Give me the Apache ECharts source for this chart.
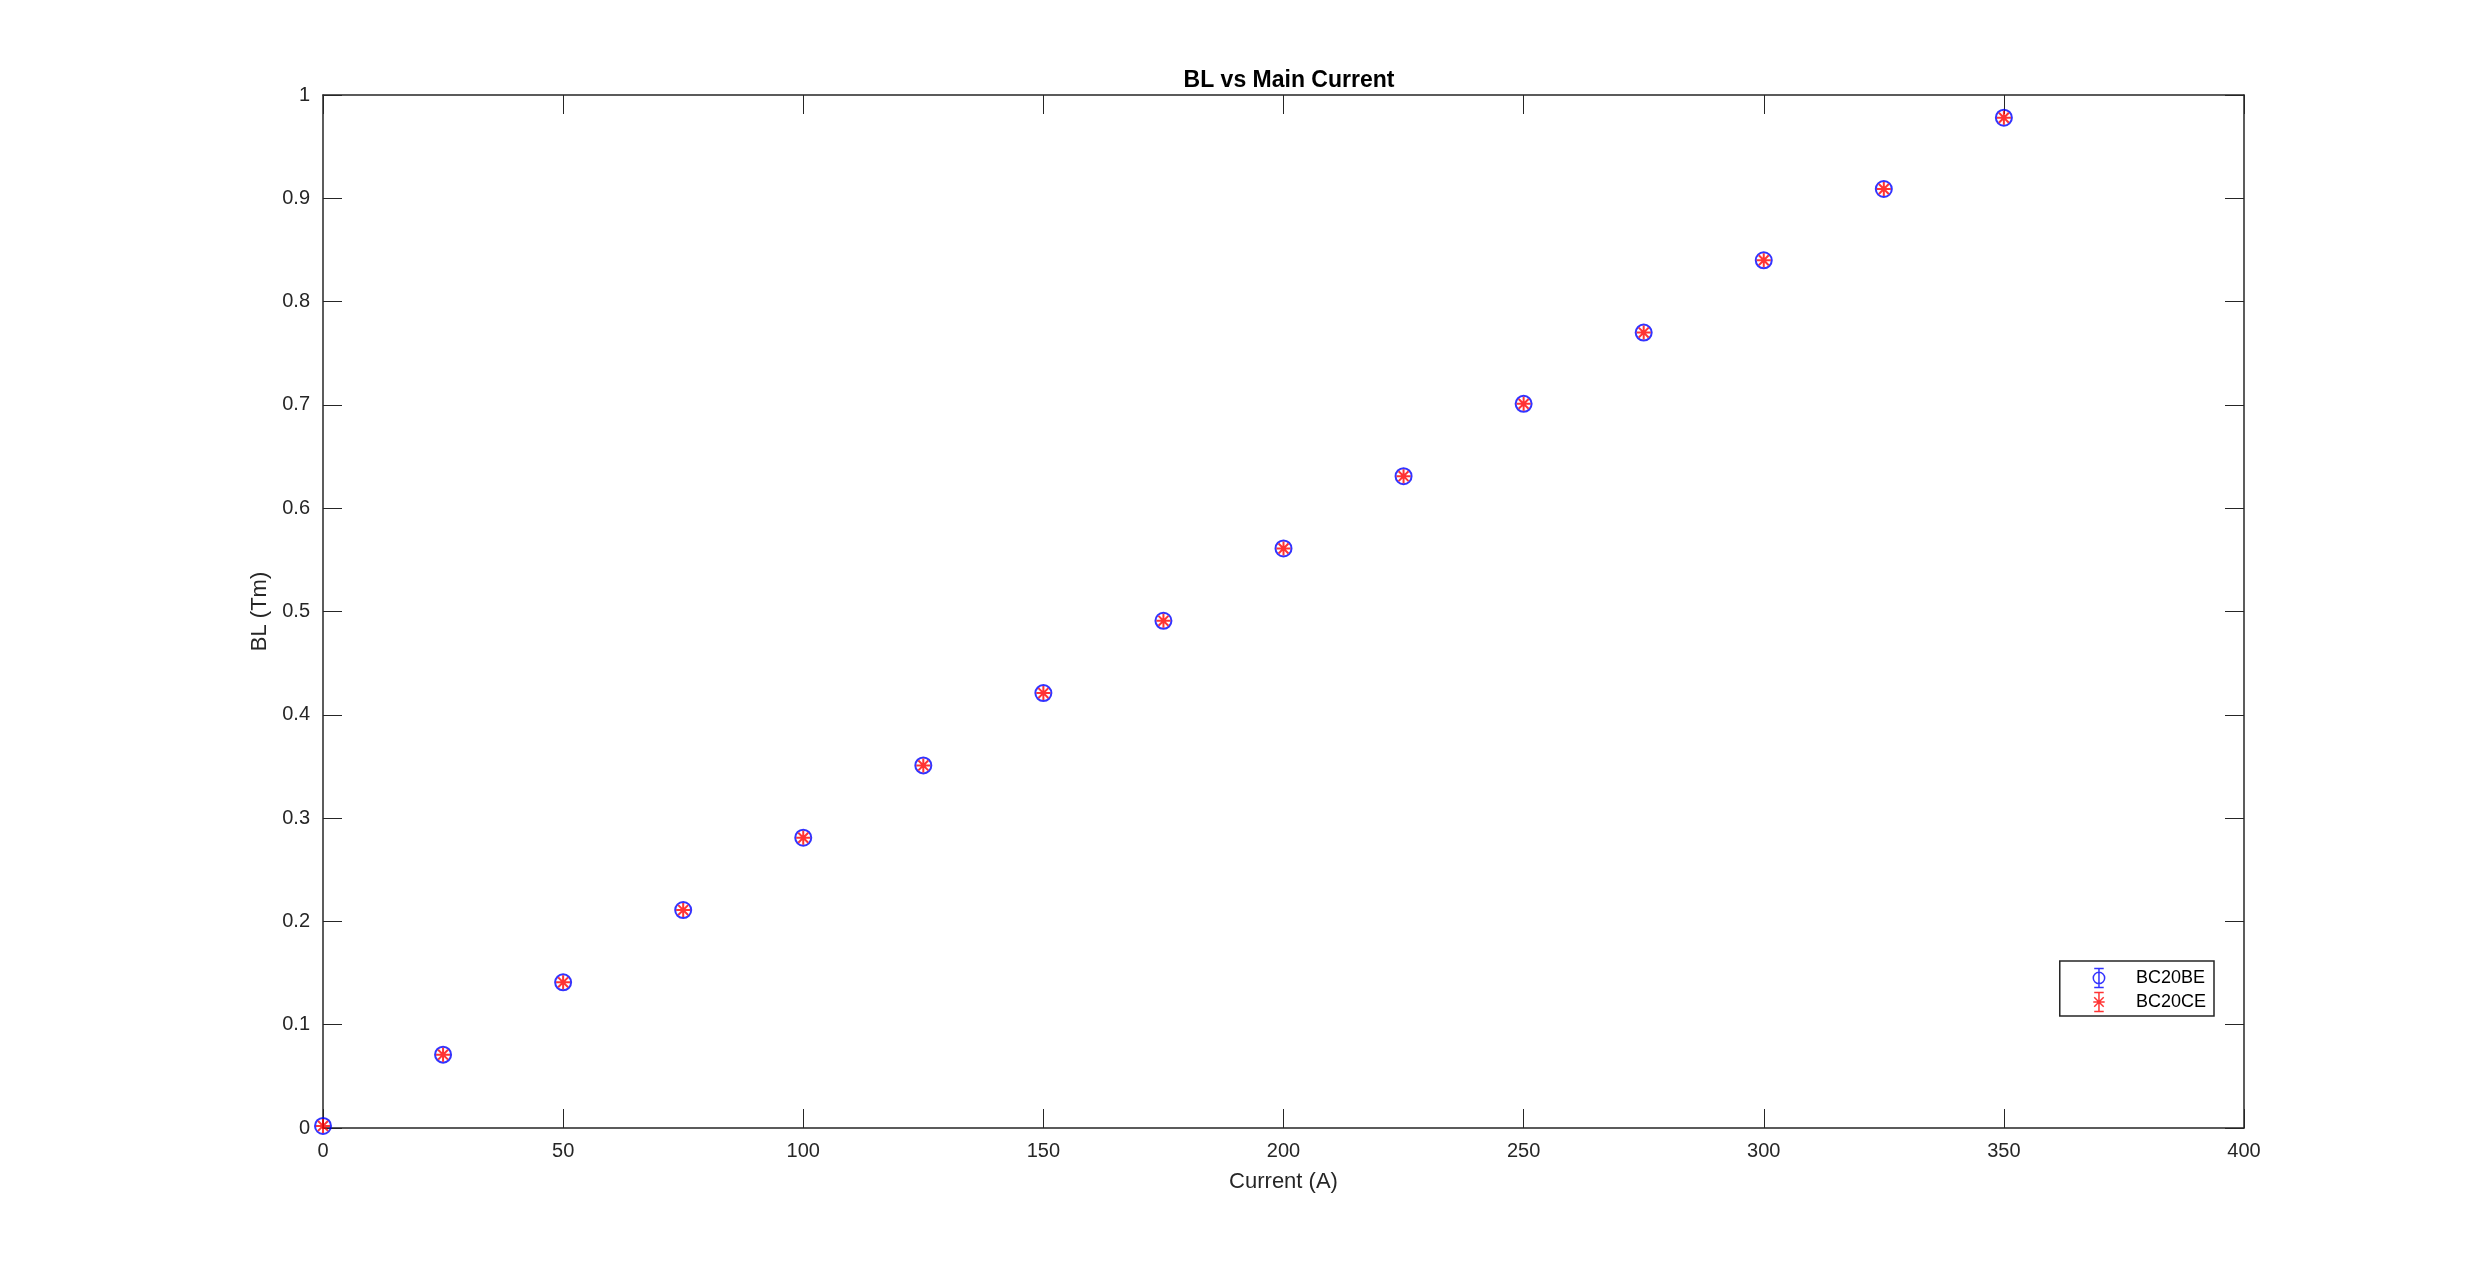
<!DOCTYPE html>
<html>
<head>
<meta charset="utf-8">
<script src="https://cdn.jsdelivr.net/npm/echarts@6/dist/echarts.min.js"></script>
<style>
  html, body { margin: 0; padding: 0; background: #fff; }
  #chart { width: 2481px; height: 1269px; }
</style>
</head>
<body>
<div id="chart"></div>
<script>
// Main current (A)
const current = [0, 25, 50, 75, 100, 125, 150, 175, 200, 225, 250, 275, 300, 325, 350]
// Integrated field BL (Tm)
const blBE = [0.002, 0.071, 0.141, 0.211, 0.281, 0.351, 0.421, 0.491, 0.561, 0.631, 0.701, 0.770, 0.840, 0.909, 0.978]
const blCE = [0.002, 0.071, 0.141, 0.211, 0.281, 0.351, 0.421, 0.491, 0.561, 0.631, 0.701, 0.770, 0.840, 0.909, 0.978]

const axisColor = '#262626'
const font = 'Liberation Sans, Arial, Helvetica, sans-serif'

// legend icons: marker with an error bar through it
const circleIcon = 'path://M-5,-10 L5,-10 M0,-10 L0,10 M-5,10 L5,10 M-6,0 A6,6 0 1 1 6,0 A6,6 0 1 1 -6,0 Z'
const starIcon = 'path://M-5,-10 L5,-10 M0,-10 L0,10 M-5,10 L5,10 M-6,0 L6,0 M-5,-5 L5,5 M-5,5 L5,-5'
const starSymbol = 'path://M0,-10 L0,10 M-10,0 L10,0 M-7.07,-7.07 L7.07,7.07 M-7.07,7.07 L7.07,-7.07'

const pairs = (ys) => current.map((x, i) => [x, ys[i]])

const boxAxis = (pos, min, max, interval, showLabel) => ({
  type: 'value',
  position: pos,
  min, max, interval,
  axisLine: { show: true, onZero: false, lineStyle: { color: axisColor, width: 1.5 } },
  axisTick: { show: true, inside: true, length: 19, lineStyle: { color: axisColor, width: 1 } },
  splitLine: { show: false },
  axisLabel: { show: showLabel, color: axisColor, fontFamily: font, fontSize: 20, margin: 13 },
})

const chart = echarts.init(document.getElementById('chart'))
chart.setOption({
  backgroundColor: '#fff',
  animation: false,
  title: {
    text: 'BL vs Main Current',
    left: 1284,
    textAlign: 'center',
    top: 64,
    textStyle: { color: '#000', fontFamily: font, fontSize: 23, fontWeight: 'bold' },
  },
  grid: { left: 323, right: 237, top: 95, bottom: 141, containLabel: false },
  legend: {
    orient: 'vertical',
    right: 267,
    top: 961,
    padding: [5, 8, 2, 31],
    itemGap: 0,
    itemWidth: 14,
    itemHeight: 19,
    backgroundColor: '#fff',
    borderColor: axisColor,
    borderWidth: 1.5,
    borderRadius: 0,
    textStyle: { color: '#000', fontFamily: font, fontSize: 18, padding: [0, 0, 0, 25] },
    data: [
      { name: 'BC20BE', icon: circleIcon, itemStyle: { color: 'none', borderColor: '#0000ff', borderWidth: 1.5 } },
      { name: 'BC20CE', icon: starIcon, itemStyle: { color: 'none', borderColor: '#ff0000', borderWidth: 1.5 } },
    ],
  },
  xAxis: [
    Object.assign(boxAxis('bottom', 0, 400, 50, true), {
      name: 'Current (A)',
      nameLocation: 'middle',
      nameGap: 43,
      nameTextStyle: { color: axisColor, fontFamily: font, fontSize: 22 },
    }),
    boxAxis('top', 0, 400, 50, false),
  ],
  yAxis: [
    Object.assign(boxAxis('left', 0, 1, 0.1, true), {
      name: 'BL (Tm)',
      nameLocation: 'middle',
      nameGap: 46,
      nameTextStyle: { color: axisColor, fontFamily: font, fontSize: 22 },
    }),
    boxAxis('right', 0, 1, 0.1, false),
  ],
  series: [
    {
      name: 'BC20BE',
      type: 'scatter',
      data: pairs(blBE),
      symbol: 'circle',
      symbolSize: 16,
      clip: false,
      itemStyle: { color: 'none', borderColor: '#0000ff', borderWidth: 2 },
    },
    {
      name: 'BC20CE',
      type: 'scatter',
      data: pairs(blCE),
      symbol: starSymbol,
      symbolSize: 14,
      clip: false,
      itemStyle: { color: 'none', borderColor: '#ff0000', borderWidth: 2 },
    },
  ],
})
</script>
</body>
</html>
